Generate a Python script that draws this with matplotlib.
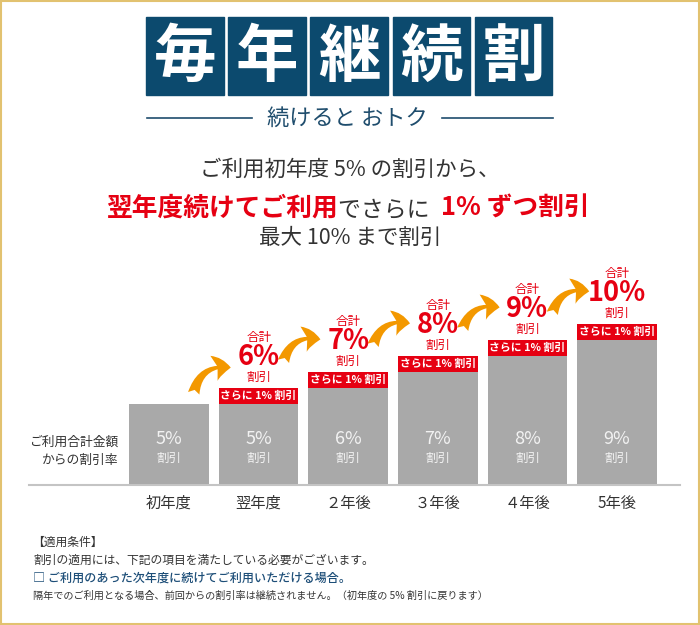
import matplotlib
matplotlib.use("Agg")
import matplotlib.pyplot as plt
from matplotlib.patches import Rectangle, FancyArrowPatch

plt.rcParams['font.family'] = ['Noto Sans CJK JP', 'DejaVu Sans']

# ------------------------
# データ
# ------------------------
years = ['初年度', '翌年度', '２年後', '３年後', '４年後', '5年後']
base_rate = [5, 5, 6, 7, 8, 9]      # グレー部分（前年度からの割引率）
extra_rate = [0, 1, 1, 1, 1, 1]     # 赤部分（さらに 1% 割引）
total_rate = [5, 6, 7, 8, 9, 10]    # 合計割引率
title_chars = ['毎', '年', '継', '続', '割']

NAVY = '#0c4a6e'
RED = '#e60012'
GREY = '#a9a9a9'
ORANGE = '#f39800'
DARK = '#333333'

fig = plt.figure(figsize=(7, 6.25), dpi=100)

# 背景レイヤー（ピクセル座標）
bg = fig.add_axes([0, 0, 1, 1])
bg.set_xlim(0, 700)
bg.set_ylim(625, 0)
bg.axis('off')

# 枠線
bg.add_patch(Rectangle((0.8, 0.8), 698.4, 623.4, fill=False, ec='#e2c270', lw=1.5))

# ------------------------
# タイトル
# ------------------------
for k, ch in enumerate(title_chars):
    x0 = 146 + k * 82.2
    bg.add_patch(Rectangle((x0, 17), 77.5, 78, color=NAVY))
    bg.text(x0 + 38.8, 57, ch, color='white', fontsize=45, fontweight='bold',
            ha='center', va='center')

bg.text(347, 118, '続けると おトク', color='#1f4d6d', fontsize=16,
        ha='center', va='center')
bg.plot([147, 252], [118, 118], color='#1f4d6d', lw=1.2)
bg.plot([442, 553], [118, 118], color='#1f4d6d', lw=1.2)

# ------------------------
# 説明文
# ------------------------
bg.text(350, 170, 'ご利用初年度 5% の割引から、', color=DARK, fontsize=15.5,
        ha='center', va='center')
bg.text(350, 238, '最大 10% まで割引', color=DARK, fontsize=15.5,
        ha='center', va='center')

parts = [('翌年度続けてご利用', dict(color=RED, fontsize=18.5, fontweight='bold')),
         ('でさらに ', dict(color=DARK, fontsize=16.5)),
         (' 1% ずつ割引', dict(color=RED, fontsize=18.5, fontweight='bold'))]
renderer = fig.canvas.get_renderer()
x = 0
line_texts = []
for s, kw in parts:
    t = bg.text(x, 216, s, ha='left', va='baseline', **kw)
    x += t.get_window_extent(renderer).width
    line_texts.append(t)
shift = 348 - x / 2
for t in line_texts:
    px, py = t.get_position()
    t.set_position((px + shift, py))

# ------------------------
# 棒グラフ
# ------------------------
ax = fig.add_axes([124.2 / 700, (625 - 484) / 625, 537.6 / 700, 176 / 625])
ax.patch.set_alpha(0)
ax.set_xlim(-0.5, 5.5)
ax.set_ylim(0, 11)
for s in ax.spines.values():
    s.set_visible(False)
ax.set_yticks([])

xs = range(len(years))
ax.bar(xs, base_rate, width=0.89, color=GREY)
ax.bar(xs, extra_rate, bottom=base_rate, width=0.89, color=RED)

ax.set_xticks(list(xs))
ax.set_xticklabels(years, fontsize=11, color=DARK)
ax.tick_params(axis='x', length=0, pad=8)

for i in xs:
    ax.text(i, 2.8, f'{base_rate[i]}%', color='#f2f2f2', fontsize=13,
            ha='center', va='center')
    ax.text(i, 1.6, '割引', color='#f2f2f2', fontsize=9,
            ha='center', va='center')
    if extra_rate[i] > 0:
        ax.text(i, base_rate[i] + extra_rate[i] / 2, f'さらに {extra_rate[i]}% 割引',
                color='white', fontsize=7.8, fontweight='bold',
                ha='center', va='center')
        ax.annotate('合計', (i, total_rate[i]), xytext=(0, 50), textcoords='offset pixels',
                    color=RED, fontsize=9, ha='center', va='center')
        ax.annotate(f'{total_rate[i]}%', (i, total_rate[i]), xytext=(0, 31),
                    textcoords='offset pixels', color=RED, fontsize=19.5,
                    fontweight='bold', ha='center', va='center')
        ax.annotate('割引', (i, total_rate[i]), xytext=(0, 11), textcoords='offset pixels',
                    color=RED, fontsize=9, ha='center', va='center')
        # オレンジの矢印
        lift = 1 if extra_rate[i - 1] > 0 else 0
        tail = (i - 1 + 0.27, total_rate[i - 1] + 0.5 + lift)
        head = (i - 0.28, total_rate[i] + 1.25 + 0.75 * lift)
        arr = FancyArrowPatch(tail, head, connectionstyle='arc3,rad=-0.5',
                              arrowstyle='fancy,head_length=0.55,head_width=0.85,tail_width=0.38',
                              mutation_scale=22, color=ORANGE, lw=0, clip_on=False)
        ax.add_patch(arr)

# 基準線と左ラベル
bg.plot([29, 680], [484.5, 484.5], color='#c4c4c4', lw=1.5)
bg.text(118, 442, 'ご利用合計金額', color=DARK, fontsize=9.2, ha='right', va='center')
bg.text(118, 460, 'からの割引率', color=DARK, fontsize=9.2, ha='right', va='center')

# ------------------------
# 適用条件
# ------------------------
bg.text(32, 542, '【適用条件】', color=DARK, fontsize=8.5, ha='left', va='center')
bg.text(33, 560, '割引の適用には、下記の項目を満たしている必要がございます。',
        color=DARK, fontsize=8.5, ha='left', va='center')
bg.text(33, 578, '□ ご利用のあった次年度に続けてご利用いただける場合。',
        color='#1d4e78', fontsize=8.7, fontweight='medium', ha='left', va='center')
bg.text(33, 596, '隔年でのご利用となる場合、前回からの割引率は継続されません。（初年度の 5% 割引に戻ります）',
        color=DARK, fontsize=7.3, ha='left', va='center')

fig.savefig('out.png', dpi=100)
